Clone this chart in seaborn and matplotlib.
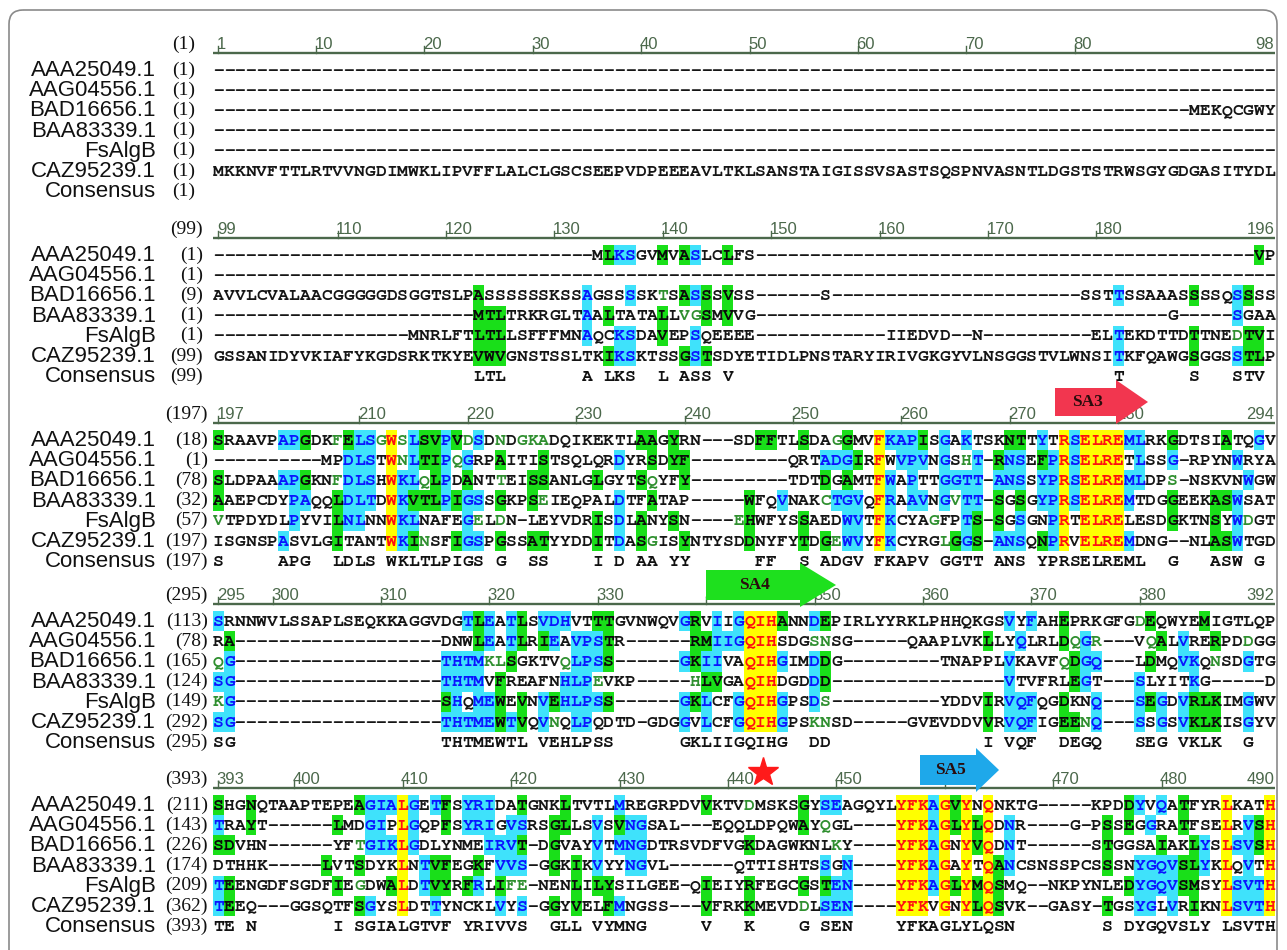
import numpy as np
import matplotlib
matplotlib.use("Agg")
import matplotlib.pyplot as plt
from matplotlib import font_manager as fm
from matplotlib.colors import ListedColormap
from matplotlib.patches import FancyBboxPatch, Polygon
import seaborn as sns

# ---------------- alignment data ----------------
NAMES = ["AAA25049.1", "AAG04556.1", "BAD16656.1", "BAA83339.1", "FsAlgB", "CAZ95239.1", "Consensus"]

BLOCK_START = [1, 99, 197, 295, 393]

RULER_LABELS = [
    [1, 10, 20, 30, 40, 50, 60, 70, 80, 98],
    [99, 110, 120, 130, 140, 150, 160, 170, 180, 196],
    [197, 210, 220, 230, 240, 250, 260, 270, 280, 294],
    [295, 300, 310, 320, 330, 340, 350, 360, 370, 380, 392],
    [393, 400, 410, 420, 430, 440, 450, 460, 470, 480, 490],
]

# residue number shown in brackets at the start of each row
ROW_START = [
    [1, 1, 1, 1, 1, 1, 1],
    [1, 1, 9, 1, 1, 99, 99],
    [18, 1, 78, 32, 57, 197, 197],
    [113, 78, 165, 124, 149, 292, 295],
    [211, 143, 226, 174, 209, 362, 393],
]

B1 = [
    "-" * 98,
    "-" * 98,
    "-" * 90 + "MEKQCGWY",
    "-" * 98,
    "-" * 98,
    "MKKNVFTTLRTVVNGDIMWKLIPVFFLALCLGSCSEEPVDPEEEAVLTKLSANSTAIGISSVSASTSQSPNVASNTLDGSTSTRWSGYGDGASITYDL",
    "",
]

B2 = [
    "-" * 35 + "MLKSGVMVASLCLFS" + "-" * 46 + "VP",
    "-" * 98,
    "AVVLCVALAACGGGGGDSGGTSLPASSSSSSKSSAGSSSSKTSASSSVSS" + "-" * 6 + "S" + "-" * 23 + "SSTTSSAAASSSSQSSSS",
    "-" * 24 + "MTLTRKRGLTAALTATALLVGSMVVG" + "-" * 38 + "G" + "-" * 5 + "SGAA",
    "-" * 18 + "MNRLFTLTLLSFFFMNAQCKSDAVEPSQEEEE" + "-" * 12 + "IIEDVD" + "--" + "N" + "-" * 10 + "ELTEKDTTDTTNEDTVI",
    "GSSANIDYVKIAFYKGDSRKTKYEVWVGNSTSSLTKIKSKTSSGSTSDYETIDLPNSTARYIRIVGKGYVLNSGGSTVLWNSITKFQAWGSGGSSTLP",
    " " * 24 + "LTL" + " " * 7 + "A LKS  L ASS V" + " " * 35 + "T" + " " * 6 + "S" + " " * 3 + "STV ",
]

B3 = [
    "SRAAVPAPGDKFELSGWSLSVPVDSDNDGKADQIKEKTLAAGYRN---SDFFTLSDAGGMVFKAPISGAKTSKNTTYTRSELREMLRKGDTSIATQGV",
    "-" * 10 + "MPDLSTWNLTIPQGRPAITISTSQLQRDYRSDYF" + "-" * 9 + "QRTADGIRFWVPVNGSHT" + "-" + "RNSEFPRSELRETLSSG" + "-" + "RPYNWRYA",
    "SLDPAAAPGKNFDLSHWKLQLPDANTTEISSANLGLGYTSQYFY" + "-" * 9 + "TDTDGAMTFWAPTTGGTT" + "-" + "ANSSYPRSELREMLDPS" + "-" + "NSKVNWGW",
    "AAEPCDYPAQQLDLTDWKVTLPIGSSGKPSEIEQPALDTFATAP" + "-" * 5 + "WFQVNAKCTGVQFRAAVNGVTT" + "-" + "SGSGYPRSELREMTDGGEEKASWSAT",
    "VTPDYDLPYVILNLNNWKLNAFEGELDN" + "-" + "LEYVDRISDLANYSN" + "-" * 4 + "EHWFYSSAEDWVTFKCYAGFPTS" + "-" + "SGSGNPRTELRELESDGKTNSYWDGT",
    "ISGNSPASVLGITANTWKINSFIGSPGSSATYYDDITDASGISYNTYSDDNYFYTDGEWVYFKCYRGLGGS" + "-" + "ANSQNPRVELREMDNG" + "--" + "NLASWTGD",
    "S" + " " * 5 + "APG" + "  " + "LDLS" + " " + "WKLTLPIGS" + " " + "G" + "  " + "SS" + " " * 4 + "I D AA YY" + " " * 6
    + "FF  S ADGV FKAPV GGTT ANS YPRSELREML  G   ASW G ",
]

B4 = [
    "SRNNWVLSSAPLSEQKKAGGVDGTLEATLSVDHVTTTGVNWQVGRVIIGQIHANNDEPIRLYYRKLPHHQKGSVYFAHEPRKGFGDEQWYEMIGTLQP",
    "RA" + "-" * 19 + "DNWLEATLRIEAVPSTR" + "-" * 6 + "RMIIGQIHSDGSNSG" + "-" * 5 + "QAAPLVKLLYQLRLDQGR" + "---" + "VQALVRERPDDGG",
    "QG" + "-" * 19 + "THTMKLSGKTVQLPSS" + "-" * 6 + "GKIIVAQIHGIMDDG" + "-" * 9 + "TNAPPLVKAVFQDGQ" + "---" + "LDMQVKQNSDGTG",
    "SG" + "-" * 19 + "THTMVFREAFNHLPEVKP" + "-" * 5 + "HLVGAQIHDGDDD" + "-" * 16 + "VTVFRLEGT" + "---" + "SLYITKG" + "-" * 5 + "D",
    "KG" + "-" * 19 + "SHQMEWEVNVEHLPSS" + "-" * 6 + "GKLCFGQIHGPSDS" + "-" * 10 + "YDDVIRVQFQGDKNQ" + "---" + "SEGDVRLKIMGWV",
    "SG" + "-" * 19 + "THTMEWTVQVNQLPQDTD" + "-" + "GDGGVLCFGQIHGPSKNSD" + "-" * 5 + "GVEVDDVVRVQFIGEENQ" + "---" + "SSGSVKLKISGYV",
    "SG" + " " * 19 + "THTMEWTL VEHLPSS" + " " * 6 + "GKLIIGQIHG  DD" + " " * 14 + "I VQF  DEGQ   SEG VKLK  G  ",
]

B5 = [
    "SHGNQTAAPTEPEAGIALGETFSYRIDATGNKLTVTLMREGRPDVVKTVDMSKSGYSEAGQYLYFKAGVYNQNKTG-----KPDDYVQATFYRLKATH",
    "TRAYT------LMDGIPLGQPFSYRIGVSRSGLLSVSVNGSAL---EQQLDPQWAYQGL----YFKAGLYLQDNR----G-PSSEGGRATFSELRVSH",
    "SDVHN------YFTGIKLGDLYNMEIRVT-DGVAYVTMNGDTRSVDFVGKDAGWKNLKY----YFKAGNYVQDNT------STGGSAIAKLYSLSVSH",
    "DTHHK-----LVTSDYKLNTVFEGKFVVS-GGKIKVYYNGVL------QTTISHTSSGN----YFKAGAYTQANCSNSSPCSSSNYGQVSLYKLQVTH",
    "TEENGDFSGDFIEGDWALDTVYRFRLIFE-NENLILYSILGEE-QIEIYRFEGCGSTEN----YFKAGLYMQSMQ--NKPYNLEDYGQVSMSYLSVTH",
    "TEEQ---GGSQTFSGYSLDTTYNCKLVYS-GGYVELFMNGSS---VFRKKMEVDDLSEN----YFKVGNYLQSVK--GASY-TGSYGLVRIKNLSVTH",
    "TE N" + " " * 7 + "I SGIALGTVF YRIVVS  GLL VYMNG" + " " * 5 + "V" + " " * 3 + "K" + " " * 4 + "G SEN" + " " * 4
    + "YFKAGLYLQSN" + " " * 8 + "S DYGQVSLY LSVTH",
]

# shading per residue (column index within block):
# Y identical (red on yellow), C conserved (blue on cyan),
# G similar block (black on green), w weakly similar (green text)
B2_MASK = [
    "36G 37C 38C 41G 43G 44C 47G 96G",
    "",
    "24G 34C 38C 41w 43G 44C 45G 47G 83C 90G 94C 95G",
    "24-26G 34C 36G 41G 43w 44w 45G 47G 94C",
    "24-26G 34C 37C 38C 41G 44C 83C 90G 94w 95G 96G",
    "24-26G 36G 37C 38C 43G 44C 45G 83C 90G 94C 95G 96G",
]

B3_MASK = [
    "0G 6C 7C 8G 11w 12G 13C 14C 15w 16Y 17w 18C 19G 20G 21C 22G 23w 24C 26w 28w 29w 30w 39G 40G 42G "
    "50G 51G 54G 57w 58G 61Y 62-64C 65G 67C 69C 73G 74G 76C 78Y 79C 80-83Y 84C 85C 88G 93G 96C",
    "12-14C 16Y 17w 18C 19G 20G 21C 22w 23C 26G 30G 37C 40G 42G 43G 56-58C 59G 61Y 63-65C 67C 69w 70C "
    "72G 73C 74C 76G 77C 78Y 79C 80-83Y 85C 88C 94C",
    "0G 6C 7C 8G 11w 12-14C 16Y 17C 18C 19w 20G 21C 23G 26w 29G 30G 35G 39G 40w 43G 56G 58G 61Y 62C 64C "
    "67-70C 72-74C 76C 77C 78Y 79C 80-83Y 84C 85C 88w 95C",
    "0G 7C 8C 11G 12-14C 16Y 17C 18G 19G 20G 21C 22G 23C 24C 26G 29G 30w 37C 40G 49G 52C 56w 57-59C 61Y "
    "62C 64C 65C 67C 68w 69C 70C 72G 74G 76C 77C 78Y 79C 80-83Y 84C 88G 92G 93G 94C",
    "0w 7C 11G 12C 13C 16Y 17C 18C 23C 24w 26w 35G 37C 39G 42G 48w 49G 54G 58C 59C 61Y 62C 66w 69C 70G "
    "72G 74C 77C 78Y 80-83Y 88G 92G 94C 95w",
    "6C 11G 16Y 17C 18G 19w 22G 23C 24C 26G 29G 30G 35G 37C 39G 40w 43G 49G 54G 56G 57w 58C 59C 61Y 62C "
    "67w 68G 69C 70G 72-74C 76G 77C 78Y 80-83Y 84C 92G 93G 94C",
]

B4_MASK = [
    "0C 23C 24G 25C 27C 28G 30-32C 35G 36G 43C 44G 46C 48C 49-51Y 52G 55C 56G 73C 75C 78G 85w 86G 91G",
    "1G 24G 25C 27C 28G 30G 31C 33-35C 36G 44G 45G 46-48C 49-51Y 55w 56w 71G 74C 78G 79w 80C 81w 86w "
    "87G 89C 92G 95w",
    "0w 1C 21-24C 25w 26w 27G 32w 33-35C 36G 43C 44G 45C 46C 49-51Y 52C 55C 56G 73C 78w 79G 80C 81C 86G "
    "89C 90C 92w 95C",
    "0C 1C 21-24C 26G 32-34C 35w 44w 45G 46G 49-51Y 55C 56G 73C 79G 80C 85C 90C",
    "0w 1C 21G 22C 24C 25C 26G 28G 30C 31G 32-35C 36G 43C 44G 45C 48C 49-51Y 52C 55C 56w 71G 73-75C 78G "
    "81C 85C 86G 87C 89C 90-92G 95C",
    "0C 1C 21-25C 26G 27C 28G 30C 31w 33C 34C 43C 45C 48C 49-51Y 52C 55w 56w 71G 73-75C 78G 79G 80w 81C "
    "85C 87C 89C 90-92G 95C",
]

B5_MASK = [
    "0G 3G 13G 14-16C 17Y 18C 20C 21G 23-25C 28G 32G 37C 45G 49w 54G 56C 57C 63-65Y 66C 67Y 68G 69Y 71Y "
    "84G 85C 87C 89G 93Y 97Y",
    "0C 3G 11G 14C 15C 17Y 18C 21G 23-25C 27C 28C 31G 32G 35C 37G 38C 39C 54G 56w 63-65Y 66C 67Y 68G 69Y "
    "70G 71Y 73C 82G 84G 86C 89G 93Y 95C 96G 97Y",
    "0G 1G 13w 14-16C 17Y 18C 25-27C 28G 31G 35C 37-39C 49G 57w 63-65Y 66C 67Y 69Y 70G 71Y 73C 82G 87G "
    "90G 91C 93Y 94C 95C 96G 97Y",
    "10G 13G 17Y 19C 20G 21G 24G 26-28C 31G 33G 35C 38C 39C 56C 58C 63-65Y 66C 67Y 69Y 71Y 72G 73C 82G "
    "85-88C 89G 90G 91C 93Y 95C 97Y",
    "0C 1G 11G 13w 16G 17Y 19C 20G 21G 23G 24C 26G 27w 28w 33G 35G 36G 45G 49G 54G 56G 57C 58C 63-65Y "
    "66C 67Y 68G 69Y 70G 71Y 72G 84G 85-88C 89G 90G 93Y 94-96C 97Y",
    "0C 1G 13G 14C 17Y 20C 26C 28C 31G 33G 36G 37C 45G 49G 54w 56-58C 63-65Y 67Y 69Y 70G 71Y 72G 82G "
    "85C 86C 88C 90G 93Y 94-96C 97Y",
]

BLOCKS = [B1, B2, B3, B4, B5]
MASKS = [None, B2_MASK, B3_MASK, B4_MASK, B5_MASK]

# annotation boxes (label, colour)
MOTIFS = [("SA3", "#f2364f"), ("SA4", "#1ee01e"), ("SA5", "#1ea8ea")]

# ---------------- styling / layout ----------------
W, H = 1287, 950
X0, CW = 213.0, 10.84          # first residue column (px), column width
AAA_Y = [70, 255, 440, 621, 805]
RH = 20.2
NCOL = 98
NUM_RIGHT = [195, 203, 208, 208, 208]

BG = ["#ffffff", "#19df19", "#3fe2fb", "#ffff00"]
CODE_BG = {".": 0, "w": 0, "G": 1, "C": 2, "Y": 3}
CODE_FG = {".": "#151515", "w": "#2f8f2f", "G": "#0a0a0a", "C": "#0a14ff", "Y": "#ff1010"}
RULER_C = "#4b684b"

avail = {f.name for f in fm.fontManager.ttflist}


def pick(cands):
    for c in cands:
        if c in avail:
            return c
    return cands[-1]


MONO = pick(["Courier New", "Nimbus Mono PS", "FreeMono", "Liberation Mono"])
SERIF = "Liberation Serif"
SANS = "Liberation Sans"
NAME_FONT, NAME_SIZE = SANS, 16


def parse_mask(spec, n=NCOL):
    m = ["."] * n
    for tok in spec.split():
        code, rng = tok[-1], tok[:-1]
        if "-" in rng:
            a, b = map(int, rng.split("-"))
        else:
            a = b = int(rng)
        for i in range(a, b + 1):
            m[i] = code
    return m


fig = plt.figure(figsize=(W / 100, H / 100), dpi=100)
fig.patch.set_facecolor("white")

for k, block in enumerate(BLOCKS):
    rows = [s.ljust(NCOL)[:NCOL] for s in block]
    masks = [["."] * NCOL for _ in range(6)]
    if MASKS[k] is not None:
        masks = [parse_mask(s) for s in MASKS[k]]
    masks.append(["."] * NCOL)  # consensus row unshaded

    codes = np.array([[CODE_BG[c] for c in m] for m in masks])
    top = AAA_Y[k] - RH / 2
    ax = fig.add_axes([X0 / W, 1 - (top + 7 * RH) / H, NCOL * CW / W, 7 * RH / H])
    sns.heatmap(codes, ax=ax, cmap=ListedColormap(BG), vmin=-0.5, vmax=3.5,
                cbar=False, xticklabels=False, yticklabels=False, linewidths=0)
    ax.set_xlim(0, NCOL)
    ax.set_ylim(7, 0)
    for sp in ax.spines.values():
        sp.set_visible(False)
    ax.tick_params(left=False, bottom=False)

    def dx(px):
        return (px - X0) / CW

    def dy(py):
        return (py - top) / RH

    # residues
    for i, (seq, m) in enumerate(zip(rows, masks)):
        for j, ch in enumerate(seq):
            if ch == " ":
                continue
            col = CODE_FG[m[j]] if i < 6 else "#111111"
            ax.text(j + 0.5, i + 0.55, ch, ha="center", va="center", family=MONO,
                    fontsize=13, fontweight="bold", color=col, clip_on=False)
        ax.text(dx(156), i + 0.52, NAMES[i], ha="right", va="center", family=NAME_FONT,
                fontsize=NAME_SIZE, color="#111111", clip_on=False)
        ax.text(dx(NUM_RIGHT[k]), i + 0.5, f"({ROW_START[k][i]})", ha="right", va="center",
                family=SERIF, fontsize=14, color="#111111", clip_on=False)

    # ruler
    y_line = dy(AAA_Y[k] - 17)
    y_lab = dy(AAA_Y[k] - 21)
    ax.plot([0, NCOL], [y_line, y_line], color=RULER_C, lw=1.7, clip_on=False,
            solid_capstyle="butt")
    labels = RULER_LABELS[k]
    for n, lab in enumerate(labels):
        c = lab - BLOCK_START[k]
        if n == len(labels) - 1:
            ax.text(NCOL - 0.1, y_lab, str(lab), ha="right", va="baseline", family=SANS,
                    fontsize=12, color=RULER_C, clip_on=False)
        else:
            ax.plot([c + 0.5, c + 0.5], [y_line, y_line - 7 / RH], color=RULER_C, lw=1.0,
                    clip_on=False)
            ax.text(c + 0.35, y_lab, str(lab), ha="left", va="baseline", family=SANS,
                    fontsize=12, color=RULER_C, clip_on=False)
    ax.text(dx(NUM_RIGHT[k]), y_lab, f"({BLOCK_START[k]})", ha="right", va="baseline",
            family=SERIF, fontsize=14, color="#111111", clip_on=False)

# overlay in pixel space for frame and motif markers
ov = fig.add_axes([0, 0, 1, 1], zorder=10)
ov.set_xlim(0, W)
ov.set_ylim(H, 0)
ov.axis("off")
ov.patch.set_alpha(0)

ov.add_patch(FancyBboxPatch((9, 10), W - 19, H + 40, boxstyle="round,pad=0,rounding_size=14",
                            fill=False, ec="#8a8a8a", lw=1.2))

# arrow geometry: left, head start, tip, centre y, body half height, head half height
ARROWS = [(1055, 1116, 1148, 402, 14, 22), (706, 800, 836, 585, 15, 22), (920, 976, 999, 770, 15, 22)]
for (lab, colr), (x0, xh, xt, yc, hb, hh) in zip(MOTIFS, ARROWS):
    pts = [(x0, yc - hb), (xh, yc - hb), (xh, yc - hh), (xt, yc), (xh, yc + hh), (xh, yc + hb), (x0, yc + hb)]
    ov.add_patch(Polygon(pts, closed=True, fc=colr, ec="none"))
    ov.text((x0 + xh) / 2 + 2, yc, lab, ha="center", va="center", family=SERIF,
            fontweight="bold", fontsize=12.5, color="#2a0c0c")

ov.plot([763], [772], marker="*", ms=22, color="#ff1a1a", mec="#ff1a1a")

fig.savefig("out.png", dpi=100, facecolor="white")
